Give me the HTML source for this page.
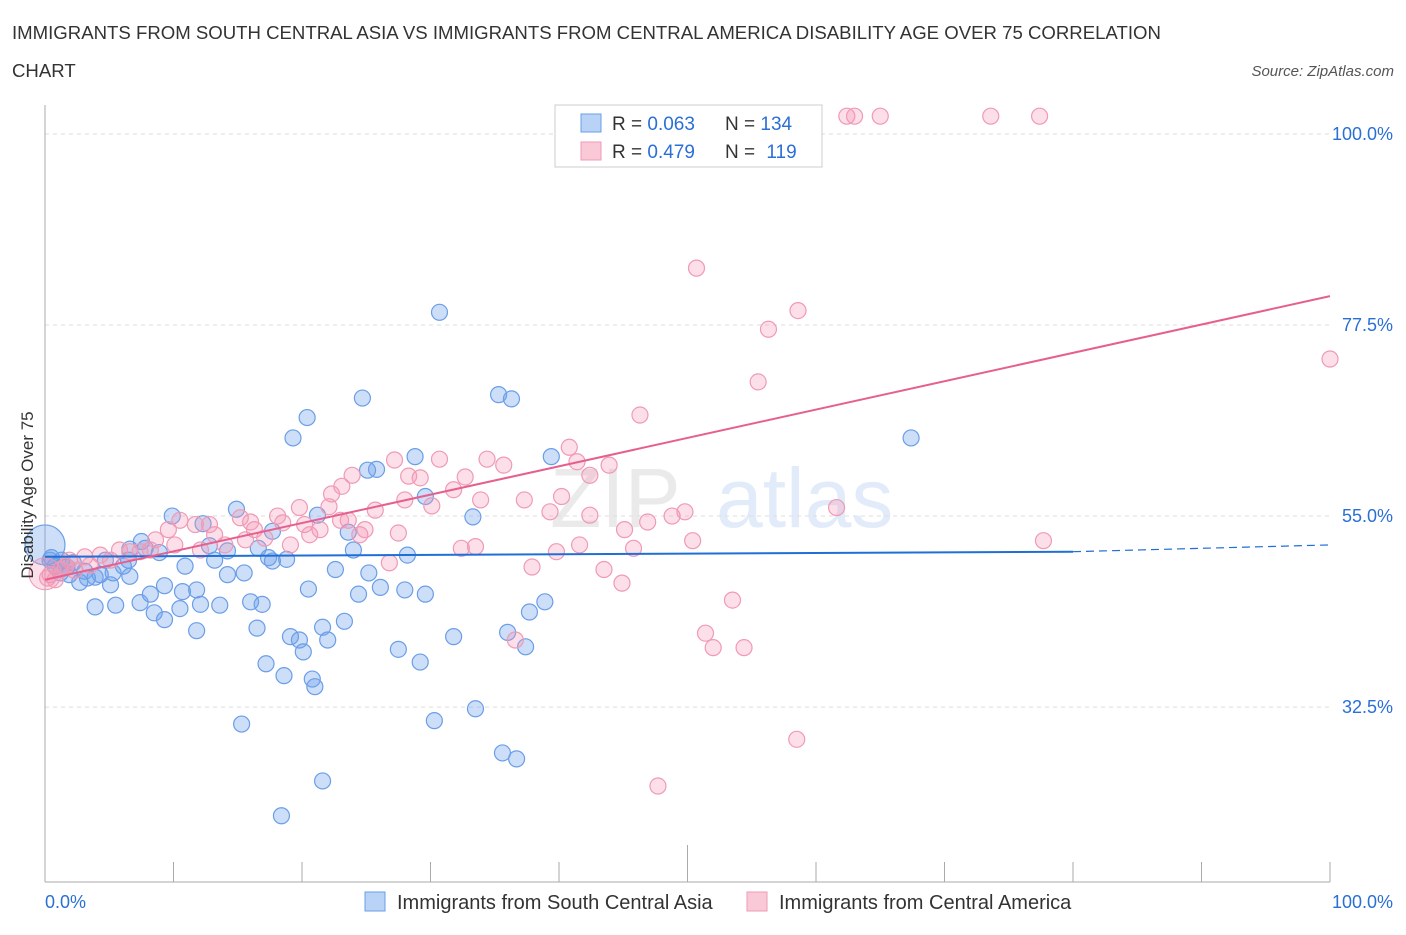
<!DOCTYPE html>
<html><head><meta charset="utf-8"><style>
body{margin:0;background:#fff;font-family:"Liberation Sans",sans-serif;}
svg text{font-family:"Liberation Sans",sans-serif;}
</style></head><body>
<svg id="chart" width="1406" height="930" xmlns="http://www.w3.org/2000/svg">
<text x="12" y="39" font-size="18.6" fill="#333">IMMIGRANTS FROM SOUTH CENTRAL ASIA VS IMMIGRANTS FROM CENTRAL AMERICA DISABILITY AGE OVER 75 CORRELATION</text>
<text x="12" y="77" font-size="18.6" fill="#333">CHART</text>
<text x="1394" y="76" font-size="15" fill="#555" text-anchor="end" font-style="italic">Source: ZipAtlas.com</text>
<g opacity="0.13"><text x="550" y="527" font-size="84" fill="#666" font-family="Liberation Serif">ZIP</text><text x="716" y="527" font-size="84" fill="#2a6fd6">atlas</text></g>
<g id="grid"></g><g id="axes"></g><g id="pts"></g><g id="lines"></g>
<text transform="translate(33,495) rotate(-90)" text-anchor="middle" font-size="17" fill="#333">Disability Age Over 75</text>
<g>
<rect x="555" y="105" width="267" height="62" fill="#fff" stroke="#ccc"/>
<rect x="581" y="114" width="20" height="18" fill="#b9d3f7" stroke="#6b9ee8"/>
<text x="612" y="130" font-size="19" fill="#333">R = <tspan fill="#2a6fd6">0.063</tspan></text>
<text x="725" y="130" font-size="19" fill="#333">N = <tspan fill="#2a6fd6">134</tspan></text>
<rect x="581" y="142" width="20" height="18" fill="#f9c9d8" stroke="#f09ab5"/>
<text x="612" y="158" font-size="19" fill="#333">R = <tspan fill="#2a6fd6">0.479</tspan></text>
<text x="725" y="158" font-size="19" fill="#333">N = <tspan fill="#2a6fd6" dx="6">119</tspan></text>
</g>
<g>
<rect x="365" y="892" width="20" height="19" fill="#b9d3f7" stroke="#6b9ee8"/>
<text x="397" y="909" font-size="20" fill="#333">Immigrants from South Central Asia</text>
<rect x="747" y="892" width="20" height="19" fill="#f9c9d8" stroke="#f09ab5"/>
<text x="779" y="909" font-size="20" fill="#333">Immigrants from Central America</text>
</g>
</svg>
<script>
const yTicks=[100,77.5,55,32.5];
const yTickLabels=["100.0%","77.5%","55.0%","32.5%"];
const xTickVals=[0,10,20,30,40,50,60,70,80,90,100];
const blueX=[19.3,20.4,24.7,30.7,35.3,36.3,67.4,39.4,28.8,25.8,25.1,29.6,33.3,14.9,9.9,12.3,21.2,23.6,24.0,28.2,26.1,22.6,25.2,29.6,28.0,38.9,37.7,36.0,37.4,31.8,29.2,27.5,23.3,22.0,21.6,19.8,19.1,20.1,17.2,18.6,20.8,21.0,15.3,30.3,33.5,35.6,36.7,21.6,18.4,16.9,16.0,13.6,12.1,10.5,9.3,8.5,7.4,5.5,3.9,9.3,10.7,11.8,14.2,15.5,17.7,18.8,14.2,12.8,10.9,6.6,5.1,3.9,2.7,1.9,1.2,0.8,0.4,0,1.7,3.1,4.3,8.2,11.8,16.5,16.6,17.7,20.5,24.4,8.9,6.6,7.5,6.5,3.3,2.2,0.5,1.3,4.7,13.2,17.4,7.8,5.3,6.1];
const blueY=[64.2,66.6,68.9,79.0,69.3,68.8,64.2,62.0,62.0,60.5,60.4,57.3,54.9,55.8,55.0,54.1,55.1,53.1,51.0,50.4,46.6,48.7,48.3,45.8,46.3,44.9,43.7,41.3,39.6,40.8,37.8,39.3,42.6,40.4,41.9,40.4,40.8,39.0,37.6,36.2,35.8,34.9,30.5,30.9,32.3,27.1,26.4,23.8,19.7,44.6,44.9,44.5,44.6,44.1,42.8,43.6,44.8,44.5,44.3,46.8,46.1,46.3,48.1,48.3,49.7,49.9,50.9,51.5,49.1,47.9,46.9,47.8,47.2,48.1,48.3,49.1,49.8,51.6,49.0,48.5,48.1,45.8,41.5,41.8,51.2,53.2,46.4,45.8,50.7,51.1,52.0,49.8,47.7,49.5,50.1,49.8,49.8,49.8,50.1,51.2,48.3,49.1];
const pinkX=[59.7,62.4,63.0,65.0,73.6,77.4,50.7,58.6,56.3,100,55.5,46.3,40.8,41.4,43.9,42.4,34.4,35.7,30.7,32.7,29.2,28.3,27.2,23.9,23.1,22.3,19.8,18.1,15.2,16.3,20.2,21.4,23.6,25.7,28.0,30.1,31.8,33.9,37.3,39.3,40.2,42.4,45.1,46.9,48.8,49.8,50.4,41.6,39.8,37.9,32.4,33.5,27.5,24.5,22.1,43.5,44.9,53.5,51.4,52.0,54.4,58.5,47.7,61.6,77.7,45.8,36.6,26.8,17.1,13.2,11.7,10.5,9.6,8.6,7.4,5.8,4.3,3.1,1.9,1.2,0.4,0.2,5.1,8.2,10.1,12.1,14.0,15.6,19.1,20.6,3.5,2.3,0.8,12.8,16.0,18.5,23.0,24.9,6.6,1.6];
const pinkY=[102.1,102.1,102.1,102.1,102.1,102.1,84.2,79.2,77.0,73.5,70.8,66.9,63.1,61.4,61.0,59.8,61.7,61.0,61.7,59.6,59.5,59.7,61.6,59.8,58.5,57.6,56.0,55.0,54.8,53.4,54.0,53.4,54.5,55.7,56.9,56.2,58.1,56.9,56.9,55.5,57.3,55.1,53.4,54.3,55.0,55.5,52.1,51.6,50.8,49.0,51.2,51.4,53.0,52.8,56.1,48.7,47.1,45.1,41.2,39.5,39.5,28.7,23.2,56.0,52.1,51.2,40.4,49.5,52.4,52.8,54.0,54.5,53.4,52.2,50.8,51.0,50.4,50.2,49.8,48.7,48.1,47.7,49.8,51.0,51.6,51.0,51.6,52.2,51.6,52.8,49.2,48.6,47.5,54.0,54.3,54.2,54.5,53.4,50.8,49.1];
const blueTrend=[[0,50.2],[80,50.8],[100,51.6]];
const pinkTrend=[[0,47.5],[100,80.9]];
const NS="http://www.w3.org/2000/svg";
const X0=45,X1=1330;
function xs(v){return X0+(X1-X0)*v/100;}
function ys(v){return 983-8.49*v;}
function mk(t,a,p){const e=document.createElementNS(NS,t);for(const k in a)e.setAttribute(k,a[k]);p.appendChild(e);return e;}
const grid=document.getElementById('grid'),axes=document.getElementById('axes'),pts=document.getElementById('pts'),lines=document.getElementById('lines');
yTicks.forEach((v,i)=>{
 const l=mk('line',{x1:X0,x2:X1,y1:ys(v),y2:ys(v),stroke:'#ddd','stroke-dasharray':'4,4'},grid);
 
 
 const t=mk('text',{x:1393,y:ys(v)+6,'text-anchor':'end','font-size':18,fill:'#2a6fd6'},grid);
 t.textContent=yTickLabels[i];
 
 
});
const ya=mk('line',{x1:X0,x2:X0,y1:105,y2:882,stroke:'#aaa'},axes);


const xa=mk('line',{x1:X0,x2:X1,y1:882,y2:882,stroke:'#aaa'},axes);


xTickVals.forEach(v=>{
 const tk=mk('line',{x1:xs(v),x2:xs(v),y1:v==50?845:862,y2:882,stroke:'#aaa'},axes);
 
 
});
const xl0=mk('text',{x:45,y:908,'font-size':18,fill:'#2a6fd6'},axes);xl0.textContent='0.0%';


const xl1=mk('text',{x:1393,y:908,'font-size':18,fill:'#2a6fd6','text-anchor':'end'},axes);xl1.textContent='100.0%';


function dots(X,Y,fill,stroke,name){X.forEach((x,i)=>{
 const c=mk('circle',{cx:xs(x),cy:ys(Y[i]),r:(x===0&&name==='blue-point')?20:8,fill:fill,stroke:stroke,'stroke-width':1.2},pts);
 
 
});}
dots(blueX,blueY,'rgba(110,160,235,0.35)','#6b9ee8','blue-point');
dots(pinkX,pinkY,'rgba(245,150,180,0.3)','#f09ab5','pink-point');
const big=mk('circle',{cx:xs(0),cy:ys(48.2),r:16,fill:'rgba(245,150,180,0.3)',stroke:'#f09ab5'},pts);


const b1=mk('line',{x1:xs(blueTrend[0][0]),y1:ys(blueTrend[0][1]),x2:xs(blueTrend[1][0]),y2:ys(blueTrend[1][1]),stroke:'#1f6fd6','stroke-width':2},lines);


const b2=mk('line',{x1:xs(blueTrend[1][0]),y1:ys(blueTrend[1][1]),x2:xs(blueTrend[2][0]),y2:ys(blueTrend[2][1]),stroke:'#1f6fd6','stroke-width':1.2,'stroke-dasharray':'8,5'},lines);


const p1=mk('line',{x1:xs(pinkTrend[0][0]),y1:ys(pinkTrend[0][1]),x2:xs(pinkTrend[1][0]),y2:ys(pinkTrend[1][1]),stroke:'#e5608f','stroke-width':2},lines);


</script>
</body></html>
